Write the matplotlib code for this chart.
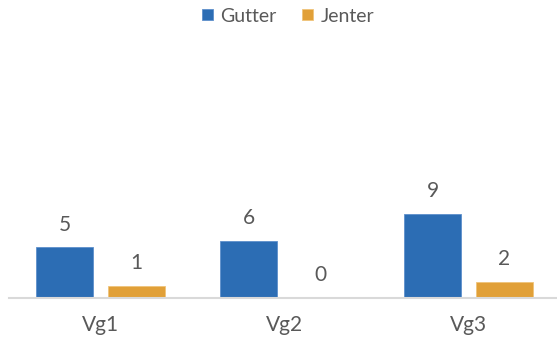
import numpy as np
import matplotlib
matplotlib.use('Agg')
import matplotlib.pyplot as plt

plt.rcParams['font.family'] = ['Lato', 'DejaVu Sans']

categories = ['Vg1', 'Vg2', 'Vg3']
gutter = [5.38, 6.08, 9.03]
jenter = [1.24, 0.0, 1.67]

blue = '#2C6DB4'
orange = '#E1A038'
txt = '#595959'

fig = plt.figure(figsize=(5.57, 3.38), dpi=100)
# axes placed so the baseline sits where the reference has it
ax = fig.add_axes([8.5/557, (338-297.5)/338, 552/557, 259.5/338])

x = np.arange(len(categories))
w = 0.308
off = 0.195
b1 = ax.bar(x - off, gutter, w, color=blue, edgecolor='#5D8FCB', linewidth=0.6, label='Gutter')
b2 = ax.bar(x + off, jenter, w, color=orange, edgecolor='#F0C47A', linewidth=0.6, label='Jenter')

for bars, vals in [(b1, gutter), (b2, jenter)]:
    for r, v in zip(bars, vals):
        ax.annotate('%.0f' % v, (r.get_x() + r.get_width()/2, v),
                    xytext=(0, 16.5), textcoords='offset points',
                    ha='center', va='center', fontsize=15, color=txt)

ax.set_xlim(-0.5, 2.5)
ax.set_ylim(0, 27.9)
ax.set_xticks(x)
ax.set_xticklabels(categories, fontsize=15, color=txt)
ax.tick_params(axis='x', length=0, pad=12.5)
ax.set_yticks([])
for s in ['top', 'right', 'left']:
    ax.spines[s].set_visible(False)
ax.spines['bottom'].set_color('#D9D9D9')
ax.spines['bottom'].set_linewidth(1.5)

leg = fig.legend(loc='center', bbox_to_anchor=(288/557, 1 - 16/338), ncol=2,
                 frameon=False, fontsize=14, handlelength=0.55, handleheight=0.55,
                 handletextpad=0.4, columnspacing=1.3, borderaxespad=0)
for t in leg.get_texts():
    t.set_color(txt)

fig.savefig('out.png', dpi=100)
